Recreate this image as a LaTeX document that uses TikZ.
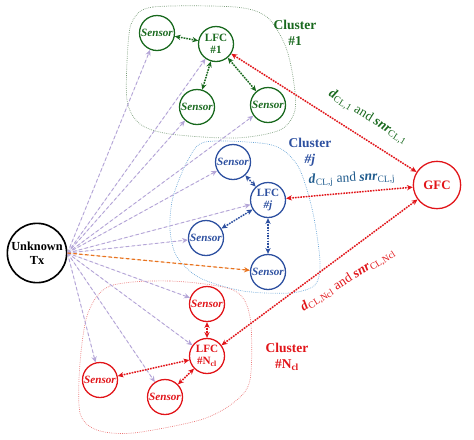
\documentclass[tikz,border=0pt]{standalone}
\usepackage{fontspec}
\setmainfont{Liberation Serif}
\usepackage{xcolor}
\usetikzlibrary{arrows.meta,positioning,calc}

\definecolor{cgreen}{RGB}{25,105,30}
\definecolor{cblue}{RGB}{45,80,160}
\definecolor{cteal}{RGB}{30,90,140}
\definecolor{cred}{RGB}{225,20,25}
\definecolor{clav}{RGB}{180,165,215}
\definecolor{corange}{RGB}{232,115,30}
\definecolor{cgline}{RGB}{120,155,120}
\definecolor{cbline}{RGB}{105,165,215}
\definecolor{crline}{RGB}{235,120,120}

\begin{document}
\begin{tikzpicture}[x=0.03cm,y=-0.03cm,>={Stealth[length=5pt,width=4.5pt]},
  dev/.style={circle,draw,line width=1.1pt,minimum size=1.05cm,inner sep=0pt,align=center,
    font=\fontsize{9.5}{10}\selectfont\bfseries},
  sens/.style={dev,font=\fontsize{9.5}{10}\selectfont\bfseries\itshape},
  txnode/.style={dev,draw=black,line width=1.4pt,minimum size=1.78cm,
    font=\fontsize{10.5}{12}\selectfont\bfseries},
  gfcnode/.style={dev,draw=cred,text=cred,minimum size=1.42cm,font=\fontsize{11}{12}\selectfont\bfseries},
  hear/.style={->,densely dashed,draw=clav,fill=clav,line width=0.8pt},
  link/.style={<->,densely dotted,line width=1.3pt},
  uplink/.style={link,draw=cred,fill=cred},
  hull/.style={densely dotted,line width=0.6pt},
  ctitle/.style={align=center,font=\fontsize{11.5}{14}\selectfont\bfseries},
  rate/.style={font=\fontsize{11.5}{12}\selectfont}]
\useasboundingbox (0,0) rectangle (474,439);
% ---- cluster outlines ----
\draw[hull,cgline] plot[smooth cycle] coordinates {(133,20) (153,7) (235,7) (267,17) (285,45) (293,77)
  (295,110) (280,130) (235,138) (170,134) (140,124) (127,100) (128,45)};
\draw[hull,cbline] plot[smooth cycle] coordinates {(205,142) (260,143) (283,150) (300,170) (313,213)
  (320,262) (315,285) (290,293) (243,291) (200,278) (177,257) (170,230) (173,197) (188,160)};
\draw[hull,crline] plot[smooth cycle] coordinates {(110,286) (170,281) (233,290) (250,317) (250,380)
  (233,403) (200,420) (133,433) (97,430) (80,413) (80,363) (88,313)};
% ---- nodes ----
\node[txnode] (tx) at (37,253) {Unknown\\Tx};
\node[gfcnode] (gfc) at (437,185) {GFC};
\begin{scope}[every node/.append style={draw=cgreen,text=cgreen}]
  \node[dev] (l1) at (216,44) {LFC\\\#1};
  \node[sens] (s1a) at (157,33) {Sensor};
  \node[sens] (s1b) at (197,107) {Sensor};
  \node[sens] (s1c) at (268,105) {Sensor};
\end{scope}
\begin{scope}[every node/.append style={draw=cblue,text=cblue}]
  \node[dev] (lj) at (268,200) {LFC\\\textit{\#j}};
  \node[sens] (sja) at (233,162) {Sensor};
  \node[sens] (sjb) at (206,238) {Sensor};
  \node[sens] (sjc) at (268,272) {Sensor};
\end{scope}
\begin{scope}[every node/.append style={draw=cred,text=cred}]
  \node[dev] (ln) at (207,356) {LFC\\\#N\textsubscript{cl}};
  \node[sens] (sna) at (207,304) {Sensor};
  \node[sens] (snb) at (100,380) {Sensor};
  \node[sens] (snc) at (165,397) {Sensor};
\end{scope}
\node[ctitle,text=cgreen] (t1) at (295,33) {Cluster\\\#1};
\node[ctitle,text=cblue] (tj) at (310,152) {Cluster\\\textit{\#j}};
\node[ctitle,text=cred] (tn) at (287,357) {Cluster\\\#N\textsubscript{cl}};
% ---- what the sensors hear ----
\foreach \s in {s1a,l1,s1b,s1c,sja,lj,sjb,sna,ln,snb,snc}
  \draw[hear] (tx.east) -- (\s);
\draw[->,densely dashed,draw=corange,fill=corange,line width=1pt] (tx.east) -- (sjc);
% ---- links inside each cluster ----
\foreach \s in {s1a,s1b,s1c} \draw[link,draw=cgreen,fill=cgreen] (\s) -- (l1);
\foreach \s in {sja,sjb,sjc} \draw[link,draw=cblue,fill=cblue] (\s) -- (lj);
\foreach \s in {sna,snb,snc} \draw[link,draw=cred,fill=cred] (\s) -- (ln);
% ---- reports to the GFC ----
\draw[uplink] (l1) -- (gfc);
\draw[uplink] (lj) -- (gfc);
\draw[uplink] (ln) -- (gfc);
\node[rate,text=cgreen,rotate=-32] (r1) at (368,117)
  {\textbf{\textit{d}}\textsubscript{CL,1} and \textbf{\textit{snr}}\textsubscript{CL,1}};
\node[rate,text=cteal,rotate=3] (rj) at (352,179)
  {\textbf{\textit{d}}\textsubscript{CL,j} and \textbf{\textit{snr}}\textsubscript{CL,j}};
\node[rate,text=cred,rotate=32] (rn) at (348,280)
  {\textbf{\textit{d}}\textsubscript{CL,Ncl} and \textbf{\textit{snr}}\textsubscript{CL,Ncl}};
\end{tikzpicture}
\end{document}
